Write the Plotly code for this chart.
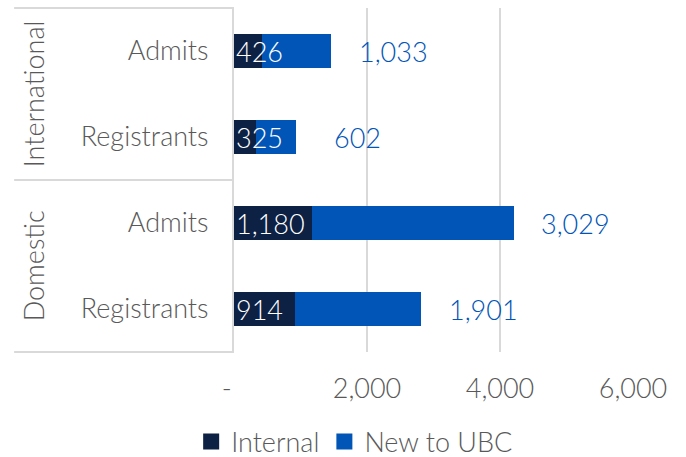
import plotly.graph_objects as go

groups = ["International", "International", "Domestic", "Domestic"]
subcats = ["Admits", "Registrants", "Admits", "Registrants"]
internal = [426, 325, 1180, 914]
new_to_ubc = [1033, 602, 3029, 1901]
series_names = ["Internal", "New to UBC"]
x_ticks = [0, 2000, 4000, 6000]
x_ticklabels = ["-\u00a0\u00a0", "2,000", "4,000", "6,000"]

C_INT = "#0C2143"
C_NEW = "#0055B7"
GRAY = "#595959"
LINE = "#D9D9D9"
FONT = "Lato"
W = 300
FS = 27

cats = [f"{g}|{s}" for g, s in zip(groups, subcats)]

def f(color=GRAY, size=FS):
    return dict(color=color, size=size, family=FONT, weight=W)

fig = go.Figure()
for name, vals, col in zip(series_names, [internal, new_to_ubc], [C_INT, C_NEW]):
    fig.add_trace(go.Bar(y=cats, x=vals, orientation="h", name=name, showlegend=False,
                         marker=dict(color=col, line=dict(width=0)), width=0.385))
# legend entries with larger square swatches
for name, col in zip(series_names, [C_INT, C_NEW]):
    fig.add_trace(go.Scatter(x=[None], y=[None], mode="markers", name=name,
                             marker=dict(symbol="square", size=16, color=col)))

anns = []
for c, a, b in zip(cats, internal, new_to_ubc):
    anns.append(dict(x=0, y=c, xref="x", yref="y", text=f"{a:,}", showarrow=False,
                     xanchor="left", xshift=0, font=f("white")))
    anns.append(dict(x=a + b, y=c, xref="x", yref="y", text=f"{b:,}", showarrow=False,
                     xanchor="center", xshift=62, font=f(C_NEW)))

# group labels
unique_groups = []
for g in groups:
    if g not in unique_groups:
        unique_groups.append(g)
n = len(groups)
for g in unique_groups:
    idx = [i for i, gg in enumerate(groups) if gg == g]
    center = 1 - (min(idx) + max(idx) + 1) / 2 / n
    anns.append(dict(x=-0.503, y=center, xref="paper", yref="paper", text=g,
                     textangle=-90, showarrow=False, xanchor="center", yanchor="middle",
                     font=f()))

shapes = []
left = -0.551
for yy in [1.0, 0.5, 0.0]:
    shapes.append(dict(type="line", xref="paper", yref="paper", x0=left, x1=0, y0=yy, y1=yy,
                       line=dict(color=LINE, width=2)))

fig.update_layout(
    barmode="stack",
    width=686, height=457,
    margin=dict(l=234, r=53, t=8, b=105, autoexpand=False),
    plot_bgcolor="white", paper_bgcolor="white",
    font=f(),
    annotations=anns, shapes=shapes,
    legend=dict(orientation="h", xref="container", x=0.517, xanchor="center",
                yref="container", y=0.033, yanchor="middle", traceorder="normal",
                font=f(), itemwidth=30, tracegroupgap=0),
    xaxis=dict(range=[0, 6000], tickvals=x_ticks, ticktext=x_ticklabels,
               showgrid=True, gridcolor=LINE, gridwidth=2, zeroline=False,
               showline=False, ticks="outside", ticklen=13, tickcolor="rgba(0,0,0,0)",
               tickfont=f(), fixedrange=True, automargin=False),
    yaxis=dict(categoryorder="array", categoryarray=cats, autorange="reversed",
               tickvals=cats, ticktext=subcats, showline=True, linecolor=LINE, linewidth=2,
               showgrid=False, ticks="outside", ticklen=18, tickcolor="rgba(0,0,0,0)",
               tickfont=f(), automargin=False, fixedrange=True),
)

fig.write_html("out.html", config={"displayModeBar": False},
               post_script="document.body.style.margin='0';document.body.style.overflow='hidden';")
